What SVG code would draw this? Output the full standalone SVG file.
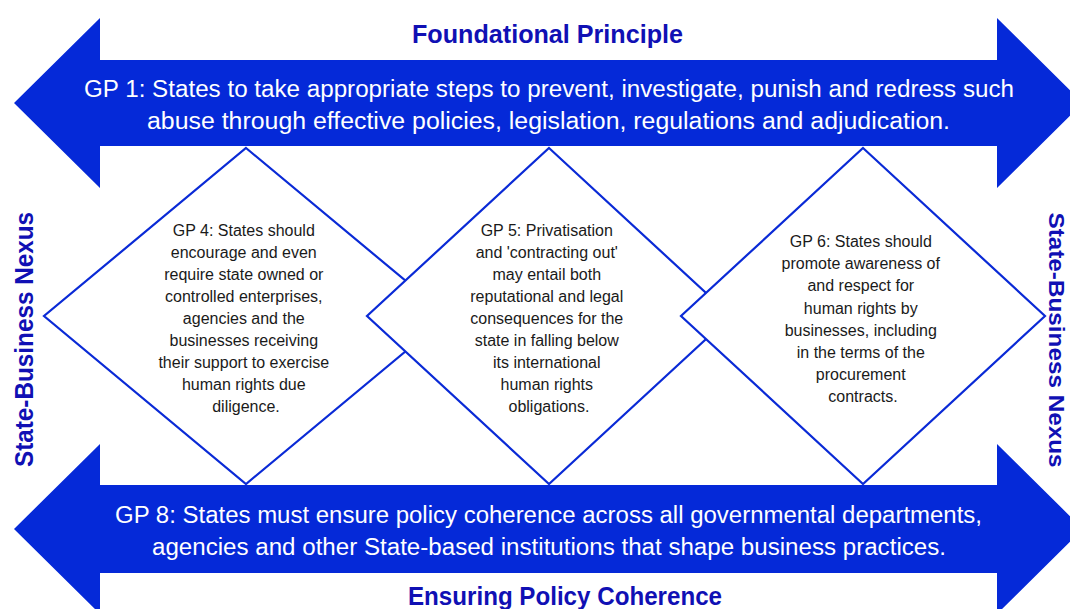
<svg xmlns="http://www.w3.org/2000/svg" width="1070" height="609" viewBox="0 0 1070 609">
  <style>
    .arrow { fill: #0529d8; }
    .arrow-text { font-family: "Liberation Sans", Arial, sans-serif; font-size: 23px; fill: #ffffff; text-anchor: middle; }
    .title { font-family: "Liberation Sans", Arial, sans-serif; font-size: 25px; font-weight: bold; fill: #1010b4; text-anchor: middle; }
    .title-sm { font-size: 22px; }
    .diamond { fill: #ffffff; stroke: #0a2ad6; stroke-width: 2.2; }
    .dtext { font-family: "Liberation Sans", Arial, sans-serif; font-size: 16px; fill: #1a1a1a; text-anchor: middle; }
  </style>
  <rect width="1070" height="609" fill="#ffffff"/>

  <g id="arrow-foundational">
    <polygon class="arrow" points="14,103 100,18 100,60 997,60 997,18 1083,103 997,188 997,146 100,146 100,188"/>
    <text class="arrow-text" x="549" y="97" textLength="930" lengthAdjust="spacingAndGlyphs">GP 1: States to take appropriate steps to prevent, investigate, punish and redress such</text>
    <text class="arrow-text" x="548.5" y="129" textLength="803" lengthAdjust="spacingAndGlyphs">abuse through effective policies, legislation, regulations and adjudication.</text>
  </g>

  <g id="arrow-coherence">
    <polygon class="arrow" points="14,529 100,444 100,485 997,485 997,444 1083,529 997,614 997,573 100,573 100,614"/>
    <text class="arrow-text" x="548.5" y="523" textLength="867" lengthAdjust="spacingAndGlyphs">GP 8: States must ensure policy coherence across all governmental departments,</text>
    <text class="arrow-text" x="549" y="555" textLength="794" lengthAdjust="spacingAndGlyphs">agencies and other State-based institutions that shape business practices.</text>
  </g>

  <g id="title-foundational">
    <text class="title" x="547.5" y="43" textLength="271" lengthAdjust="spacingAndGlyphs">Foundational Principle</text>
  </g>
  <g id="title-coherence">
    <text class="title" x="565" y="605" textLength="314" lengthAdjust="spacingAndGlyphs">Ensuring Policy Coherence</text>
  </g>
  <g id="label-left">
    <text class="title" transform="translate(33,339.5) rotate(-90)" x="0" y="0" textLength="255" lengthAdjust="spacingAndGlyphs">State-Business Nexus</text>
  </g>
  <g id="label-right">
    <text class="title title-sm" transform="translate(1049,340) rotate(90)" x="0" y="0" textLength="255" lengthAdjust="spacingAndGlyphs">State-Business Nexus</text>
  </g>

  <g id="gp4">
    <polygon class="diamond" points="246,148 448,316 246,484 44,316"/>
    <text class="dtext">
      <tspan x="246" y="236">GP 4: States should</tspan>
      <tspan x="246" y="258">encourage and even</tspan>
      <tspan x="246" y="280">require state owned or</tspan>
      <tspan x="246" y="302">controlled enterprises,</tspan>
      <tspan x="246" y="324">agencies and the</tspan>
      <tspan x="246" y="346">businesses receiving</tspan>
      <tspan x="246" y="368">their support to exercise</tspan>
      <tspan x="246" y="390">human rights due</tspan>
      <tspan x="246" y="412">diligence.</tspan>
    </text>
  </g>

  <g id="gp5">
    <polygon class="diamond" points="549,148 731,316 549,484 367,316"/>
    <text class="dtext">
      <tspan x="549" y="236">GP 5: Privatisation</tspan>
      <tspan x="549" y="258">and 'contracting out'</tspan>
      <tspan x="549" y="280">may entail both</tspan>
      <tspan x="549" y="302">reputational and legal</tspan>
      <tspan x="549" y="324">consequences for the</tspan>
      <tspan x="549" y="346">state in falling below</tspan>
      <tspan x="549" y="368">its international</tspan>
      <tspan x="549" y="390">human rights</tspan>
      <tspan x="549" y="412">obligations.</tspan>
    </text>
  </g>

  <g id="gp6">
    <polygon class="diamond" points="863,148 1045,316 863,484 681,316"/>
    <text class="dtext">
      <tspan x="863" y="247">GP 6: States should</tspan>
      <tspan x="863" y="269">promote awareness of</tspan>
      <tspan x="863" y="291">and respect for</tspan>
      <tspan x="863" y="314">human rights by</tspan>
      <tspan x="863" y="336">businesses, including</tspan>
      <tspan x="863" y="358">in the terms of the</tspan>
      <tspan x="863" y="380">procurement</tspan>
      <tspan x="863" y="402">contracts.</tspan>
    </text>
  </g>

  <g id="connectors"></g>
</svg>
